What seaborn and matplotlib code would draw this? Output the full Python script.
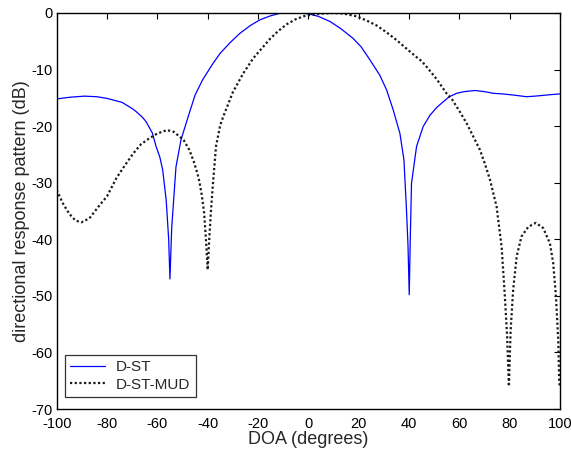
import matplotlib
matplotlib.use("Agg")
import matplotlib.pyplot as plt
import seaborn as sns

# D-ST (solid blue)
dst_doa = [-100, -95, -89, -84, -80, -74, -70, -68.5, -66, -64.5, -62, -60.5, -59, -57.9,
           -56.5, -55.5, -55, -54.3, -52.6, -50.6, -47.3, -45, -42, -38, -35, -31, -27.2,
           -23, -19.2, -15, -11.3, -6, -2, 0.6, 4, 8.6, 13, 17.8, 21, 24.5, 28.4, 31.1,
           33.7, 36.4, 38, 39, 39.6, 40.1, 40.5, 41, 43, 45.6, 48.3, 51, 53.6, 56, 58.9,
           62, 66.2, 70, 73.5, 77, 81.4, 86.7, 90, 94.7, 100]
dst_db = [-15.2, -14.9, -14.7, -14.8, -15.1, -15.8, -16.9, -17.4, -18.4, -19.2, -21.2, -23.6,
          -25.5, -27.7, -33, -40, -47, -38, -27.2, -22.4, -17.7, -14.5, -11.8, -9, -7.1,
          -5.2, -3.6, -2.2, -1.2, -0.5, -0.05, 0, -0.05, -0.2, -0.6, -1.5, -2.8, -4.5, -6,
          -8.3, -11, -13.6, -17.1, -21.3, -26, -34.8, -41, -49.8, -40, -30.1, -23.6, -20.1,
          -18.1, -16.7, -15.7, -14.8, -14.2, -13.9, -13.7, -13.9, -14.2, -14.3, -14.5,
          -14.8, -14.7, -14.5, -14.3]

# D-ST-MUD (dotted black)
mud_doa = [-100, -97.6, -95, -92.5, -90.2, -87, -83, -80, -76.3, -73, -69.7, -66.5, -63, -60,
           -56.2, -53.5, -51, -49.5, -47.3, -45.5, -44, -43.3, -42.3, -41.4, -40.7, -40,
           -39.4, -38.7, -38, -36.7, -35, -33.8, -30, -28.5, -25.9, -21.9, -18, -15.3, -12,
           -8.6, -5, -2, 0, 3, 6, 10, 14, 19.2, 23, 27.1, 31, 35.1, 39, 43, 45, 47, 51,
           54.9, 57, 60, 62.9, 65.5, 68.2, 70.2, 72.2, 74.8, 76.8, 78.1, 79, 79.7, 80.4,
           81.4, 82.8, 84.7, 87.4, 90.4, 93.3, 96, 97.3, 98.4, 99.3, 99.7, 100]
mud_db = [-31.3, -33.6, -35.5, -36.7, -37.0, -36.3, -34, -32.4, -29.2, -27, -24.9, -23.2,
          -22.1, -21.3, -20.7, -21.0, -21.9, -22.5, -24.2, -26.3, -28.5, -29.8, -32.3,
          -35.4, -40, -45.4, -40.1, -35, -30.7, -23.6, -19.8, -18.3, -14, -12.8, -10.7, -8,
          -6, -4.6, -3.2, -2, -1.1, -0.6, -0.4, -0.2, -0.1, 0, -0.1, -0.6, -1.3, -2.2, -3.4,
          -4.8, -6.3, -7.8, -8.5, -9.5, -11.7, -14.2, -15.2, -17.3, -19.5, -21.8, -24.2,
          -26.7, -29.5, -34.2, -41.3, -50.1, -57.2, -66, -56, -48.9, -43, -39.5, -37.8,
          -37.1, -38, -40.7, -44.2, -50.1, -57.8, -65.4, -66]

x_ticks = list(range(-100, 101, 20))
y_ticks = list(range(-70, 1, 10))

sns.set_theme(style="white")
plt.rcParams["font.family"] = ["Liberation Sans", "DejaVu Sans"]
plt.rcParams["axes.unicode_minus"] = False

fig = plt.figure(figsize=(5.71, 4.54), dpi=100)
ax = fig.add_axes([0.0993, 0.0991, 0.8814, 0.8723])

sns.lineplot(x=dst_doa, y=dst_db, ax=ax, color="#0000ff", linewidth=0.9,
             label="D-ST", sort=False, estimator=None)
sns.lineplot(x=mud_doa, y=mud_db, ax=ax, color="#1a1a1a", linewidth=1.6,
             linestyle=(0, (1, 1.1)), label="D-ST-MUD", sort=False, estimator=None)

ax.set_xlim(-100, 100)
ax.set_ylim(-70, 0)
ax.set_xticks(x_ticks)
ax.set_yticks(y_ticks)
ax.tick_params(direction="in", length=4, width=0.8, top=True, right=True,
               labelsize=10.5, colors="black", pad=3)
ax.tick_params(axis="x", pad=6)
for s in ax.spines.values():
    s.set_color("black")
    s.set_linewidth(1.0)

ax.set_xlabel("DOA (degrees)", fontsize=13, labelpad=0)
ax.set_ylabel("directional response pattern (dB)", fontsize=13, labelpad=1)

leg = ax.legend(loc="lower left", bbox_to_anchor=(0.0165, 0.03), borderaxespad=0,
                fontsize=11, frameon=True, fancybox=False, handlelength=2.3,
                borderpad=0.35, labelspacing=0.25, handletextpad=0.7)
leg.get_frame().set_edgecolor("black")
leg.get_frame().set_linewidth(0.9)

fig.savefig("out.png", dpi=100)
